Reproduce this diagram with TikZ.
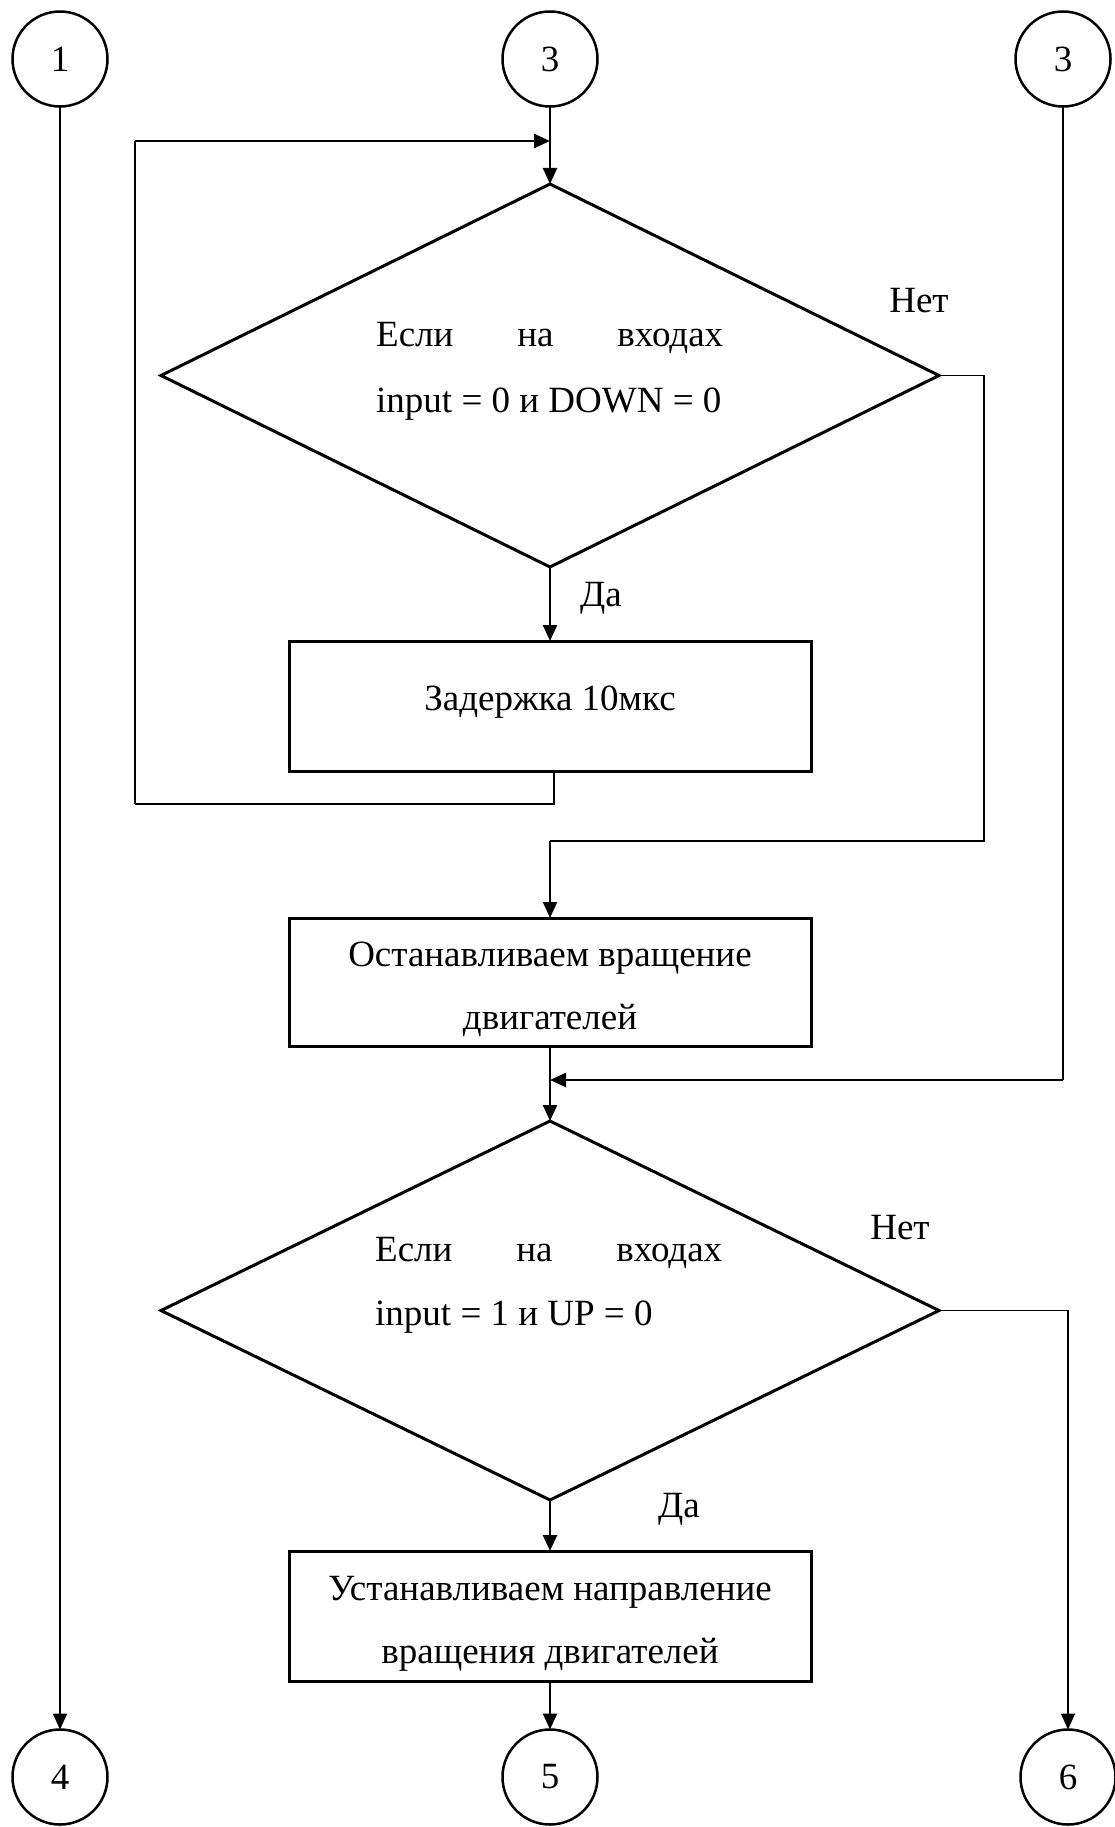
\documentclass[tikz,border=0pt]{standalone}
\usepackage{fontspec}
\setmainfont{Liberation Serif}
\usetikzlibrary{shapes.geometric,arrows.meta}
\begin{document}
\begin{tikzpicture}[x=1pt,y=-1pt,
 every node/.style={font=\fontsize{37}{63}\selectfont},
 con/.style={line width=2.5pt},
 thin con/.style={line width=1.3pt},
 arr/.style={con,-{Triangle[length=16pt,width=14pt]}},
 conn/.style={draw, circle, line width=2.5pt, minimum size=95pt, inner sep=0pt, outer sep=0pt},
 box/.style={draw, rectangle, line width=3pt, minimum width=522pt, minimum height=130pt, inner sep=0pt, outer sep=0pt, align=center},
 dec/.style={draw, diamond, line width=3pt, minimum width=778pt, minimum height=383pt, inner sep=0pt, outer sep=0pt},
 txt/.style={inner sep=0pt, text height=26pt, text depth=8pt}]
\useasboundingbox (0,0) rectangle (1115,1827);

% terminals
\node[conn] (c1) at (60,59) {1};
\node[conn] (c3a) at (550,59) {3};
\node[conn] (c3b) at (1063,59) {3};
\node[conn] (c4) at (60,1777) {4};
\node[conn] (c5) at (550,1777) {5};
\node[conn] (c6) at (1068,1777) {6};

% decisions and processes
\node[dec] (d1) at (550,375.5) {};
\node[dec, minimum height=379pt] (d2) at (550,1310.5) {};
\node[box, text height=26pt, text depth=17pt] (b1) at (550,706) {Задержка 10мкс};
\node[box, minimum height=128pt] (b2) at (550,982) {\rule{0pt}{40pt}Останавливаем вращение\\двигателей};
\node[box] (b3) at (550,1616) {\rule{0pt}{40pt}Устанавливаем направление\\вращения двигателей};

% texts
\node[txt, anchor=west] (t1a) at (376,337.5) {\makebox[347pt]{Если\hfill на\hfill входах}};
\node[txt, anchor=west] (t1b) at (376,403.5) {input = 0 и DOWN = 0};
\node[txt, anchor=west] (t2a) at (375,1252.5) {\makebox[347pt]{Если\hfill на\hfill входах}};
\node[txt, anchor=west] (t2b) at (375,1316.5) {input = 1 и UP = 0};
\node[txt] (no1) at (919,303.5) {Нет};
\node[txt] (no2) at (900,1230.5) {Нет};
\node[txt] (yes1) at (601,597.5) {Да};
\node[txt] (yes2) at (679,1508.5) {Да};

% routing points
\coordinate (j1) at (550,141);
\coordinate (lpb) at (135,804);
\coordinate (n1) at (984,841);
\coordinate (j2) at (550,1080);

% lines
\draw[arr, line width=2pt] (c1) -- (c4);
\draw[arr] (c3a) -- (d1.north);
\draw[thin con] ([xshift=4pt]b1.south) |- (lpb);
\draw[thin con] (lpb) -- (lpb |- j1);
\draw[arr] (lpb |- j1) -- (j1);
\draw[arr] (d1.south) -- (b1.north);
\draw[thin con] (d1.east) -| (n1) -- (n1 -| b2.north);
\draw[arr, line width=2pt] (n1 -| b2.north) -- (b2.north);
\draw[arr] (b2.south) -- (d2.north);
\draw[thin con] (c3b) -- (c3b.center |- j2);
\draw[arr] (c3b.center |- j2) -- (j2);
\draw[arr, line width=1.8pt] (d2.east) -| (c6.north);
\draw[arr] (d2.south) -- (b3.north);
\draw[arr] (b3.south) -- (c5.north);
\end{tikzpicture}
\end{document}
